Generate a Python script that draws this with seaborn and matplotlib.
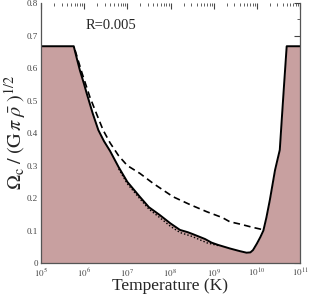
import numpy as np
import pandas as pd
import seaborn as sns
import matplotlib
matplotlib.use("Agg")
import matplotlib.pyplot as plt
from matplotlib.ticker import (FixedLocator, MultipleLocator, FuncFormatter,
                               NullFormatter)

# curves (log10 of temperature, Omega_c / sqrt(G pi rho))
solid_logT = [5.0, 5.76, 5.83, 5.90, 6.0, 6.06, 6.2, 6.33, 6.46, 6.6, 6.8, 7.0,
              7.29, 7.5, 7.75, 8.0, 8.22, 8.4, 8.5, 8.65, 8.8, 8.95, 9.1, 9.375,
              9.6, 9.76, 9.85, 9.91, 10.0, 10.08, 10.15, 10.22, 10.30, 10.36,
              10.42, 10.48, 10.53, 10.58, 10.63, 10.69, 11.0]
solid_val = [0.667, 0.667, 0.63, 0.594, 0.55, 0.522, 0.46, 0.409, 0.375, 0.345,
             0.295, 0.25, 0.204, 0.172, 0.148, 0.122, 0.102, 0.095, 0.09, 0.082,
             0.074, 0.063, 0.056, 0.045, 0.037, 0.032, 0.033, 0.04, 0.06, 0.08,
             0.10, 0.14, 0.194, 0.24, 0.286, 0.32, 0.348, 0.45, 0.55, 0.667, 0.667]

dashed_logT = [5.79, 5.95, 6.13, 6.3, 6.44, 6.6, 6.8, 7.0, 7.29, 7.6, 8.06, 8.45,
               8.84, 9.2, 9.375, 9.61, 9.9, 10.1, 10.17]
dashed_val = [0.655, 0.585, 0.512, 0.455, 0.409, 0.37, 0.33, 0.30, 0.276, 0.245,
              0.204, 0.18, 0.158, 0.14, 0.127, 0.12, 0.11, 0.104, 0.11]

dotted_logT = [6.8, 7.0, 7.29, 7.5, 7.75, 8.0, 8.22, 8.5, 8.85, 9.1]
dotted_val = [0.29, 0.244, 0.198, 0.166, 0.14, 0.113, 0.094, 0.082, 0.062, 0.054]

decades = [5, 6, 7, 8, 9, 10, 11]

sns.set_theme(style="white")
plt.rcParams["font.family"] = ["Liberation Serif", "DejaVu Serif"]
plt.rcParams["mathtext.fontset"] = "stix"

fig = plt.figure(figsize=(3.1, 3.0), dpi=100)
ax = fig.add_axes([0.132, 0.123, 0.836, 0.867])

solid = pd.DataFrame({"T": np.power(10.0, solid_logT), "v": solid_val})
dashed = pd.DataFrame({"T": np.power(10.0, dashed_logT), "v": dashed_val})
dotted = pd.DataFrame({"T": np.power(10.0, dotted_logT), "v": dotted_val})

ax.fill_between(solid["T"], solid["v"], 0, color="#c8a0a0", lw=0)
sns.lineplot(data=solid, x="T", y="v", color="black", lw=1.4, ax=ax, sort=False)
sns.lineplot(data=dashed, x="T", y="v", color="black", lw=1.2, ax=ax,
             sort=False, linestyle=(0, (4, 2.5)))
sns.lineplot(data=dotted, x="T", y="v", color="black", lw=1.0, ax=ax,
             sort=False, linestyle=(0, (1, 1.5)))

ax.set_xscale("log")
ax.set_xlim(1e5, 1e11)
ax.set_ylim(0, 0.8)

major = [10.0 ** d for d in decades]
minor = [m * 10.0 ** d for d in decades[:-1] for m in range(2, 10)]
ax.xaxis.set_major_locator(FixedLocator(major))
ax.xaxis.set_minor_locator(FixedLocator(minor))
ax.xaxis.set_minor_formatter(NullFormatter())
ax.xaxis.set_major_formatter(FuncFormatter(lambda v, p: r"$10^{%d}$" % round(np.log10(v))))
ax.yaxis.set_major_locator(MultipleLocator(0.1))
ax.yaxis.set_minor_locator(MultipleLocator(0.05))
ax.yaxis.set_major_formatter(FuncFormatter(lambda v, p: "0" if abs(v) < 1e-9 else "%.1f" % v))

ax.tick_params(which="both", direction="in", top=True, right=True,
               labelsize=6.5, colors="#444444")
ax.tick_params(axis="x", pad=3)
ax.tick_params(axis="y", pad=2)
ax.tick_params(which="major", length=4, width=0.8)
ax.tick_params(which="minor", length=2.5, width=0.6)

for side in ["left", "right", "bottom"]:
    ax.spines[side].set_color("#555555")
    ax.spines[side].set_linewidth(0.9)
ax.spines["top"].set_visible(False)

ax.set_xlabel("Temperature (K)", fontsize=12.5, labelpad=-1)
ax.set_ylabel(r"$\Omega_{\mathrm{c}}\;/\;(\mathrm{G}\,\pi\;\bar{\rho}\;)^{1/2}$",
              fontsize=14.5, labelpad=-1)

ax.text(1.1e6, 0.72, "R=0.005", fontsize=10.5)

fig.savefig("out.png", dpi=100)
